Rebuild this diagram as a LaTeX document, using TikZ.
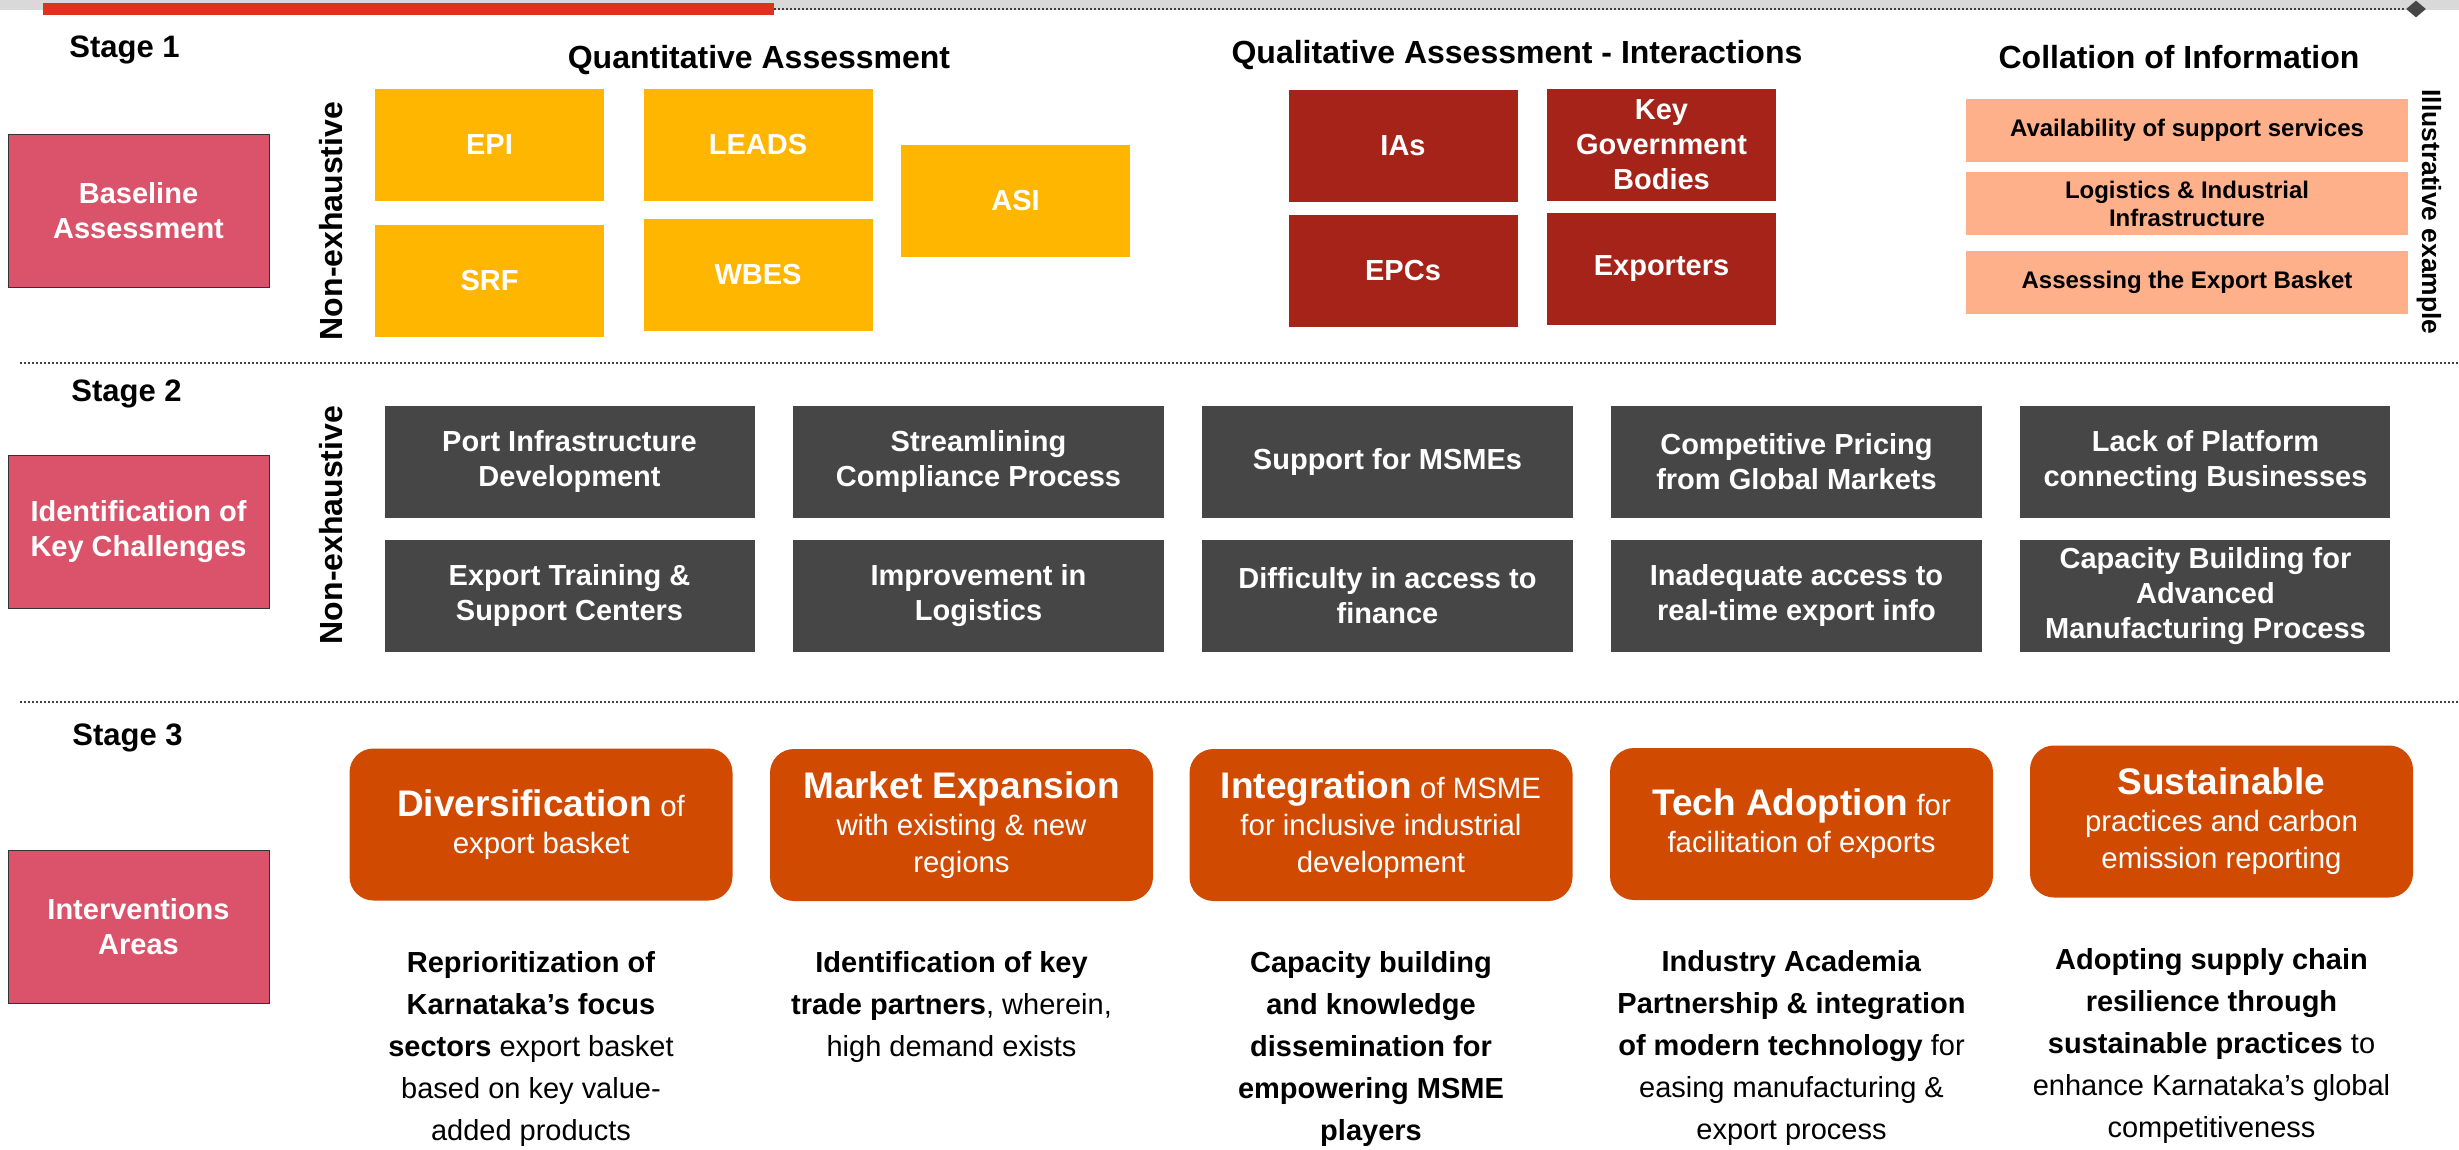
\documentclass[tikz,border=0pt]{standalone}
\usepackage{fontspec}
\setmainfont{Liberation Sans}
\usepackage{tikz}
\usetikzlibrary{shapes.geometric,positioning}

\definecolor{pwcRose}{HTML}{DB536A}
\definecolor{pwcYellow}{HTML}{FFB600}
\definecolor{pwcRed}{HTML}{A52318}
\definecolor{pwcPeach}{HTML}{FDB08A}
\definecolor{pwcGrey}{HTML}{464646}
\definecolor{pwcOrange}{HTML}{D04A02}
\definecolor{barRed}{HTML}{E0301E}
\definecolor{bandGrey}{HTML}{D9D9D9}

\newcommand{\leverword}[1]{{\fontsize{18.5}{18.5}\selectfont\bfseries #1}}

\begin{document}
\begin{tikzpicture}
[ x=0.5pt, y=-0.5pt, inner sep=0pt, align=center, font=\bfseries
, heading/.style={font=\fontsize{16}{19}\selectfont\bfseries}
, stagelabel/.style={anchor=west, font=\fontsize{15.5}{18}\selectfont\bfseries}
, sidetag/.style={font=\fontsize{16}{19}\selectfont\bfseries}
, stagebox/.style={rectangle, draw=black!80, fill=pwcRose, text=white, minimum width=130.5pt, minimum height=76.5pt, font=\fontsize{14.5}{17.5}\selectfont\bfseries}
, metric/.style={rectangle, fill=pwcYellow, text=white, minimum width=114.5pt, minimum height=56pt, font=\fontsize{14.5}{17.5}\selectfont\bfseries}
, stakeholder/.style={metric, fill=pwcRed}
, source/.style={rectangle, fill=pwcPeach, text=black, minimum width=221pt, minimum height=31.5pt, font=\fontsize{12}{14}\selectfont\bfseries}
, challenge/.style={rectangle, fill=pwcGrey, text=white, minimum width=185pt, minimum height=56pt, font=\fontsize{14.5}{17.5}\selectfont\bfseries}
, lever/.style={rectangle, rounded corners=12pt, fill=pwcOrange, text=white, minimum width=191.5pt, minimum height=76pt, font=\fontsize{14.7}{18.5}\selectfont}
, leverdesc/.style={xshift=-5pt, font=\fontsize{14.5}{21}\selectfont}
, separator/.style={draw=black!75, line width=1pt, dash pattern=on 1pt off 1pt}
]
\useasboundingbox (0,0) rectangle (2459,1150);

% Top band:
\fill[bandGrey] (0,0) rectangle (2459,10);
\node (redbar) [rectangle, fill=barRed, minimum width=365.5pt, minimum height=6pt] at (408.5,9) {};
\node (tipmark) [diamond, fill=pwcGrey, minimum width=10pt, minimum height=8.5pt] at (2416,9) {};
\draw [separator] (redbar.east) -- (tipmark.west);
\draw [separator] (20,363) -- (2459,363);
\draw [separator] (20,702) -- (2459,702);

% Stage column:
\node (stage1) [stagelabel] at (69,50) {Stage 1};
\node (stage2) [stagelabel] at (71,394) {Stage 2};
\node (stage3) [stagelabel] at (72,738) {Stage 3};
\node (baseline) [stagebox] at (138.5,210.5) {Baseline\\Assessment};
\node (keychal) [stagebox] at (138.5,531.5) {Identification of\\Key Challenges};
\node (areas) [stagebox] at (138.5,927) {Interventions\\Areas};

% Stage 1:
\node (quanthead) [heading] at (759,60) {Quantitative Assessment};
\node (qualhead) [heading] at (1517,55) {Qualitative Assessment - Interactions};
\node (collhead) [heading] at (2179,57) {Collation of Information};
\node (nonex1) [sidetag, rotate=90] at (331,221) {Non-exhaustive};
\node (epi) [metric] at (489.5,145) {EPI};
\node (leads) [metric] at (758,145) {LEADS};
\node (asi) [metric] at (1015.5,201) {ASI};
\node (srf) [metric] at (489.5,281) {SRF};
\node (wbes) [metric] at (758,275) {WBES};
\node (ias) [stakeholder] at (1403,146) {IAs};
\node (govt) [stakeholder] at (1661.5,145) {Key\\Government\\Bodies};
\node (epcs) [stakeholder] at (1403,271) {EPCs};
\node (exporters) [stakeholder] at (1661.5,269) {Exporters};
\node (support) [source] at (2187,130.5) {Availability of support services};
\node (infra) [source] at (2187,203.5) {Logistics \& Industrial\\Infrastructure};
\node (basket) [source] at (2187,282.5) {Assessing the Export Basket};
\node (illus) [sidetag, rotate=-90, font=\fontsize{13.2}{16}\selectfont\bfseries] at (2429,212) {Illustrative example};

% Stage 2:
\node (nonex2) [sidetag, rotate=90] at (331,525) {Non-exhaustive};
\matrix (challenges) [row sep=11pt, column sep=19.5pt] at (1387.5,529) {
% First row:
\node (port) [challenge] {Port Infrastructure\\Development}; &
\node (compliance) [challenge] {Streamlining\\Compliance Process}; &
\node (msme) [challenge] {Support for MSMEs}; &
\node (pricing) [challenge] {Competitive Pricing\\from Global Markets}; &
\node (platform) [challenge] {Lack of Platform\\connecting Businesses}; \\
% Second row:
\node (training) [challenge] {Export Training \&\\Support Centers}; &
\node (logistics) [challenge] {Improvement in\\Logistics}; &
\node (finance) [challenge] {Difficulty in access to\\finance}; &
\node (exportinfo) [challenge] {Inadequate access to\\real-time export info}; &
\node (capacity) [challenge] {Capacity Building for\\Advanced\\Manufacturing Process}; \\
};

% Stage 3:
\node (divers) [lever] at (541,824.5) {\leverword{Diversification} of\\export basket};
\node (market) [lever] at (961.5,825) {\leverword{Market Expansion}\\with existing \& new\\regions};
\node (integ) [lever] at (1381,825) {\leverword{Integration} of MSME\\for inclusive industrial\\development};
\node (tech) [lever] at (1801.5,824) {\leverword{Tech Adoption} for\\facilitation of exports};
\node (sustain) [lever] at (2221.5,821.5) {\leverword{Sustainable}\\practices and carbon\\emission reporting};
\node (diversdesc) [leverdesc, below=25pt of divers] {\textbf{Reprioritization of}\\\textbf{Karnataka’s focus}\\\textbf{sectors} export basket\\based on key value-\\added products};
\node (marketdesc) [leverdesc, below=25pt of market] {\textbf{Identification of key}\\\textbf{trade partners}, wherein,\\high demand exists};
\node (integdesc) [leverdesc, below=25pt of integ] {\textbf{Capacity building}\\\textbf{and knowledge}\\\textbf{dissemination for}\\\textbf{empowering MSME}\\\textbf{players}};
\node (techdesc) [leverdesc, below=25pt of tech] {\textbf{Industry Academia}\\\textbf{Partnership \& integration}\\\textbf{of modern technology} for\\easing manufacturing \&\\export process};
\node (sustaindesc) [leverdesc, below=25pt of sustain] {\textbf{Adopting supply chain}\\\textbf{resilience through}\\\textbf{sustainable practices} to\\enhance Karnataka’s global\\competitiveness};
\end{tikzpicture}
\end{document}
